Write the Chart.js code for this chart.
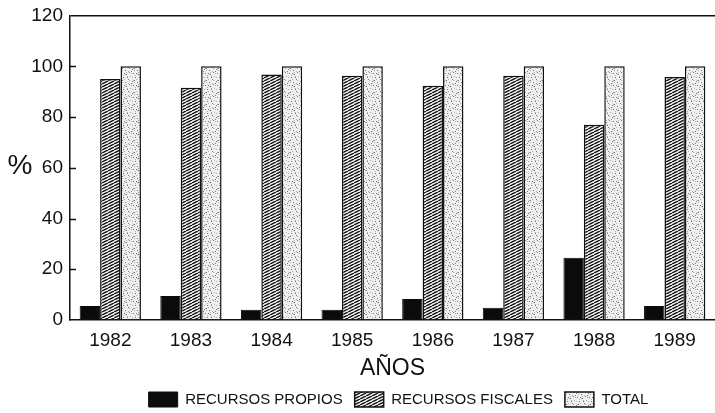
<!DOCTYPE html>
<html>
<head>
<meta charset="utf-8">
<script src="https://cdn.jsdelivr.net/npm/chart.js@4/dist/chart.umd.min.js"></script>
<style>
  html, body { margin: 0; padding: 0; background: #fff; }
  #wrap { width: 715px; height: 413px; }
</style>
</head>
<body>
<div id="wrap"><canvas id="c" width="715" height="413"></canvas></div>
<script>
// Participación de las fuentes de financiamiento, 1982-1989 (%)
const years = ['1982', '1983', '1984', '1985', '1986', '1987', '1988', '1989'];
const recursosPropios = [5.5, 9.5, 4, 4, 8.3, 4.8, 24.5, 5.5];
const recursosFiscales = [95, 91.5, 96.8, 96.3, 92.3, 96.3, 77, 95.8];
const totalRecursos = [100, 100, 100, 100, 100, 100, 100, 100];
const yTicks = [0, 20, 40, 60, 80, 100, 120];

const FONT = '"Liberation Sans", Arial, Helvetica, sans-serif';
const INK = '#111';

// Dense diagonal hatching fill
function hatchPattern() {
  const t = document.createElement('canvas');
  t.width = 6; t.height = 3;
  const g = t.getContext('2d');
  g.fillStyle = '#f4f4f4';
  g.fillRect(0, 0, 6, 3);
  g.strokeStyle = '#111';
  g.lineWidth = 1.4;
  for (const dx of [-6, 0, 6]) {
    g.beginPath();
    g.moveTo(dx, 3);
    g.lineTo(dx + 6, 0);
    g.stroke();
  }
  return g.createPattern(t, 'repeat');
}

// Light stipple fill
function stipplePattern() {
  const t = document.createElement('canvas');
  t.width = 12; t.height = 12;
  const g = t.getContext('2d');
  g.fillStyle = '#f0f0f0';
  g.fillRect(0, 0, 12, 12);
  const dots = [[1,1],[6,2],[10,4],[3,5],[8,7],[0,9],[5,10],[11,11],[2,8],[9,0],[7,5],[4,1]];
  g.fillStyle = '#777';
  for (const [x, y] of dots) g.fillRect(x, y, 1, 1);
  g.fillStyle = '#b0b0b0';
  for (const [x, y] of dots) g.fillRect((x + 6) % 12, (y + 3) % 12, 1, 1);
  return g.createPattern(t, 'repeat');
}

// Inward tick marks on the value axis and the "%" label
const axisDecor = {
  id: 'axisDecor',
  afterDatasetsDraw(chart) {
    const ctx = chart.ctx;
    const y = chart.scales.y;
    const left = chart.chartArea.left;
    ctx.save();
    ctx.strokeStyle = INK;
    ctx.lineWidth = 1.5;
    y.ticks.forEach(t => {
      if (t.value <= 0 || t.value >= 120) return;
      const py = Math.round(y.getPixelForValue(t.value)) + 0.5;
      ctx.beginPath();
      ctx.moveTo(left, py);
      ctx.lineTo(left + 6, py);
      ctx.stroke();
    });
    ctx.fillStyle = INK;
    ctx.font = '28px ' + FONT;
    ctx.textAlign = 'center';
    ctx.textBaseline = 'middle';
    ctx.fillText('%', 20, y.getPixelForValue(60) - 1);
    ctx.restore();
  }
};

// Place the legend row under the bars
const legendShift = {
  id: 'legendShift',
  afterLayout(chart) {
    const lg = chart.legend;
    if (lg) {
      lg.left = 82;
      lg.top = 380;
      lg.bottom = 413;
    }
  }
};

new Chart(document.getElementById('c'), {
  type: 'bar',
  data: {
    labels: years,
    datasets: [
      { label: 'RECURSOS PROPIOS', data: recursosPropios, backgroundColor: '#0b0b0b', borderColor: '#0b0b0b', borderWidth: 1 },
      { label: 'RECURSOS FISCALES', data: recursosFiscales, backgroundColor: hatchPattern(), borderColor: INK, borderWidth: 1.5 },
      { label: 'TOTAL', data: totalRecursos, backgroundColor: stipplePattern(), borderColor: INK, borderWidth: 1.5 }
    ]
  },
  options: {
    responsive: false,
    animation: false,
    devicePixelRatio: 1,
    layout: { padding: { top: 12, right: 0, left: 0, bottom: 1 } },
    datasets: { bar: { categoryPercentage: 0.76, barPercentage: 1.0, borderSkipped: 'bottom' } },
    plugins: {
      tooltip: { enabled: false },
      legend: {
        position: 'bottom',
        labels: {
          color: INK,
          font: { family: FONT, size: 15 },
          boxWidth: 29,
          boxHeight: 15,
          padding: 12,
          useBorderRadius: false
        }
      }
    },
    scales: {
      x: {
        grid: { display: false, drawTicks: false },
        border: { display: true, color: INK, width: 1.5 },
        ticks: { color: INK, font: { family: FONT, size: 19 }, padding: 9, maxRotation: 0 },
        title: { display: true, text: 'AÑOS', color: INK, font: { family: FONT, size: 23 }, padding: { top: 0, bottom: -7 } },
        afterFit(scale) { scale.height = 55; }
      },
      y: {
        min: 0,
        max: 120,
        afterBuildTicks(scale) { scale.ticks = yTicks.map(v => ({ value: v })); },
        grid: {
          drawTicks: false,
          color: c => (c.tick && c.tick.value === 120) ? INK : 'rgba(0,0,0,0)',
          lineWidth: 1.5
        },
        border: { display: true, color: INK, width: 1.5 },
        ticks: { color: INK, font: { family: FONT, size: 19, lineHeight: 0.9 }, padding: 7 },
        afterFit(scale) { scale.width = 70; }
      }
    }
  },
  plugins: [axisDecor, legendShift]
});
</script>
</body>
</html>
